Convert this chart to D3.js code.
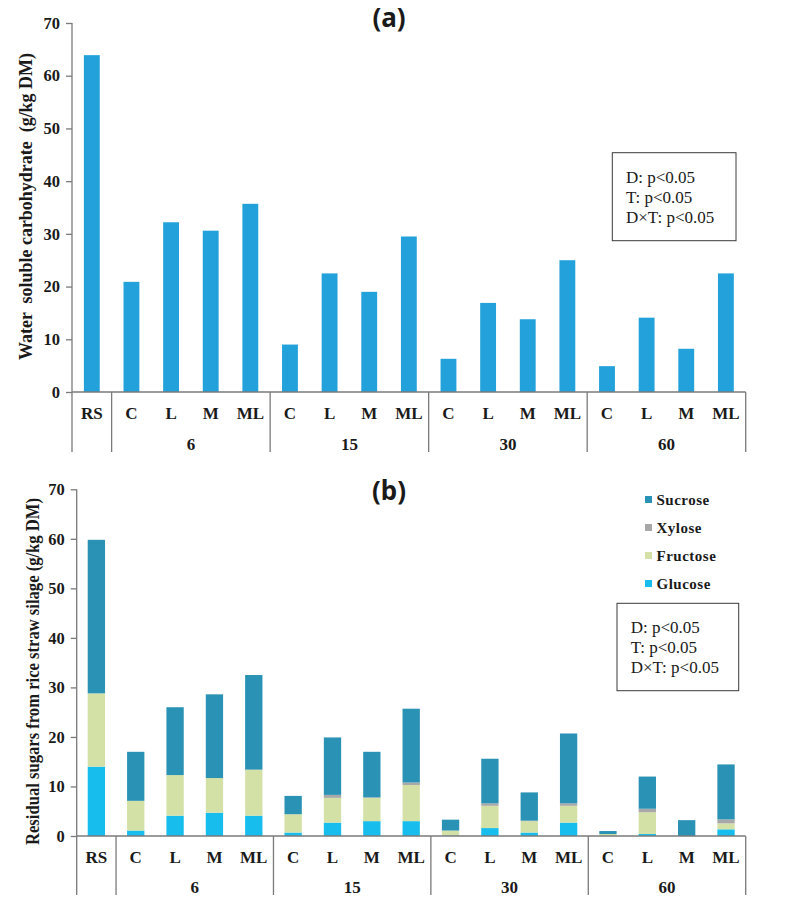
<!DOCTYPE html>
<html>
<head>
<meta charset="utf-8">
<script src="https://cdn.jsdelivr.net/npm/d3@7"></script>
<style>
  html, body { margin: 0; padding: 0; background: #fff; }
  svg { display: block; }
  text { fill: #1a1a1a; }
</style>
</head>
<body>
<svg id="chart" width="791" height="907" font-family="Liberation Serif, Times New Roman, serif"></svg>
<script>
// ---- data ----
const treatments = ["RS","C","L","M","ML","C","L","M","ML","C","L","M","ML","C","L","M","ML"];
const dayGroups = ["6","15","30","60"];
const yTicks = [0,10,20,30,40,50,60,70];

// panel (a): water soluble carbohydrate (g/kg DM)
const wsc = [63.9,20.9,32.2,30.6,35.7,9.0,22.5,19.0,29.5,6.3,16.9,13.8,25.0,4.9,14.1,8.2,22.5];

// panel (b): residual sugars (g/kg DM)
const sugarKeys = ["Glucose","Fructose","Xylose","Sucrose"];
const glucose  = [14.0,1.1,4.1,4.7,4.1,0.7,2.7,3.0,3.0,0.1,1.6,0.7,2.7,0.0,0.4,0.0,1.35];
const fructose = [14.8,6.0,8.2,7.0,9.3,3.7,5.0,4.7,7.3,1.0,4.5,2.3,3.4,0.4,4.4,0.0,1.2];
const xylose   = [0.0,0.0,0.0,0.0,0.0,0.0,0.6,0.1,0.5,0.0,0.5,0.1,0.5,0.0,0.7,0.0,0.8];
const sucrose  = [31.0,9.9,13.7,16.9,19.1,3.7,11.6,9.2,14.9,2.2,9.0,5.7,14.1,0.6,6.5,3.2,11.1];

const statLines = ["D: p<0.05","T: p<0.05","D\u00D7T: p<0.05"];

// ---- drawing ----
const svg = d3.select("#chart");
const ids = treatments.map((t,i) => i + "_" + t);
const axisColor = "#7a7a7a";
const serif = "Liberation Serif, Times New Roman, serif";

function drawFrame(g, x, y, cfg) {
  const yAxis = d3.axisLeft(y).tickValues(yTicks).tickSize(6).tickPadding(6).tickFormat(d3.format("d"));
  const ga = g.append("g").attr("transform", `translate(${cfg.x0},0)`).call(yAxis);
  ga.select(".domain").remove();
  ga.selectAll(".tick line").attr("stroke", axisColor).attr("stroke-width", 1.3);
  ga.attr("font-family", serif).attr("font-size", 16.5);
  ga.selectAll(".tick text").attr("font-weight", "bold").attr("fill", "#1a1a1a");
  g.append("line").attr("x1", cfg.x0).attr("x2", cfg.x0)
    .attr("y1", y(70)).attr("y2", cfg.yBottom)
    .attr("stroke", axisColor).attr("stroke-width", 1.3);
  g.append("line").attr("x1", cfg.x0).attr("x2", cfg.x1)
    .attr("y1", y(0)).attr("y2", y(0))
    .attr("stroke", axisColor).attr("stroke-width", 1.3);
  const step = x.step();
  [1,5,9,13,17].forEach(k => {
    const sx = cfg.x0 + step * k;
    g.append("line").attr("x1", sx).attr("x2", sx)
      .attr("y1", y(0)).attr("y2", cfg.yBottom)
      .attr("stroke", axisColor).attr("stroke-width", 1.3);
  });
  g.selectAll("text.cat").data(ids).join("text").attr("class","cat")
    .attr("x", d => x(d) + x.bandwidth()/2)
    .attr("y", cfg.catY)
    .attr("text-anchor","middle").attr("font-size", 17).attr("font-weight","bold")
    .text((d,i) => treatments[i]);
  dayGroups.forEach((lab, gi) => {
    const cx = cfg.x0 + step * (1 + gi*4 + 2);
    g.append("text").attr("x", cx).attr("y", cfg.grpY)
      .attr("text-anchor","middle").attr("font-size", 17).attr("font-weight","bold")
      .text(lab);
  });
}

function drawStatBox(g, bx, by, bw, bh, tx, ty) {
  g.append("rect").attr("x", bx).attr("y", by).attr("width", bw).attr("height", bh)
    .attr("fill", "#fff").attr("stroke", "#3a3a3a").attr("stroke-width", 1);
  statLines.forEach((s, i) => {
    g.append("text").attr("x", tx).attr("y", ty + i*20)
      .attr("font-size", 17).text(s);
  });
}

// ---------- panel (a) ----------
{
  const cfg = {x0: 72, x1: 745.7, yTop: 23, yZero: 392, yBottom: 452, catY: 419, grpY: 450};
  const x = d3.scaleBand().domain(ids).range([cfg.x0, cfg.x1]).paddingInner(0.6).paddingOuter(0.3);
  const y = d3.scaleLinear().domain([0,70]).range([cfg.yZero, cfg.yTop]);
  const g = svg.append("g");
  g.selectAll("rect.bar").data(wsc).join("rect").attr("class","bar")
    .attr("x", (d,i) => x(ids[i]))
    .attr("width", x.bandwidth())
    .attr("y", d => y(d))
    .attr("height", d => y(0) - y(d))
    .attr("fill", "#22A1DA");
  drawFrame(g, x, y, cfg);
  g.append("text").attr("x", 389).attr("y", 27).attr("text-anchor","middle")
    .attr("font-family","Noto Sans, Open Sans, sans-serif").attr("font-weight","bold").attr("font-size", 26)
    .text("(a)");
  g.append("text")
    .attr("transform", `translate(32,${(53+360)/2}) rotate(-90)`)
    .attr("text-anchor","middle").attr("font-size", 18).attr("font-weight","bold")
    .attr("textLength", 307).attr("lengthAdjust","spacingAndGlyphs")
    .attr("style","white-space:pre")
    .text("Water  soluble carbohydrate  (g/kg DM)");
  drawStatBox(g, 612.3, 152.7, 123.7, 88, 626, 182.5);
}

// ---------- panel (b) ----------
{
  const cfg = {x0: 76.7, x1: 745.7, yTop: 489.3, yZero: 836, yBottom: 895, catY: 863, grpY: 893};
  const x = d3.scaleBand().domain(ids).range([cfg.x0, cfg.x1]).paddingInner(0.56).paddingOuter(0.28);
  const y = d3.scaleLinear().domain([0,70]).range([cfg.yZero, cfg.yTop]);
  const colors = {Glucose: "#17BDEC", Fructose: "#D3E1A6", Xylose: "#A8A8A8", Sucrose: "#2A92B4"};
  const rows = ids.map((id,i) => ({id, Glucose: glucose[i], Fructose: fructose[i], Xylose: xylose[i], Sucrose: sucrose[i]}));
  const stacked = d3.stack().keys(sugarKeys)(rows);
  const g = svg.append("g");
  g.selectAll("g.layer").data(stacked).join("g").attr("class","layer")
    .attr("fill", d => colors[d.key])
    .selectAll("rect").data(d => d).join("rect")
    .attr("x", d => x(d.data.id))
    .attr("width", x.bandwidth())
    .attr("y", d => y(d[1]))
    .attr("height", d => Math.max(0, y(d[0]) - y(d[1])));
  drawFrame(g, x, y, cfg);
  g.append("text").attr("x", 389).attr("y", 500).attr("text-anchor","middle")
    .attr("font-family","Noto Sans, Open Sans, sans-serif").attr("font-weight","bold").attr("font-size", 26)
    .text("(b)");
  g.append("text")
    .attr("transform", `translate(39,${(498+845)/2}) rotate(-90)`)
    .attr("text-anchor","middle").attr("font-size", 18).attr("font-weight","bold")
    .attr("textLength", 347).attr("lengthAdjust","spacingAndGlyphs")
    .text("Residual sugars from rice straw silage (g/kg DM)");
  const legendOrder = sugarKeys.slice().reverse();
  const lg = g.append("g");
  legendOrder.forEach((k, i) => {
    const ly = 499.5 + i*28;
    lg.append("rect").attr("x", 645).attr("y", ly - 3.5).attr("width", 7).attr("height", 7).attr("fill", colors[k]);
    lg.append("text").attr("x", 656.5).attr("y", ly + 5.5).attr("font-size", 15).attr("font-weight","bold")
      .attr("letter-spacing", 0.5).text(k);
  });
  drawStatBox(g, 617, 603.3, 121.7, 87.4, 630.7, 632.5);
}
</script>
</body>
</html>
